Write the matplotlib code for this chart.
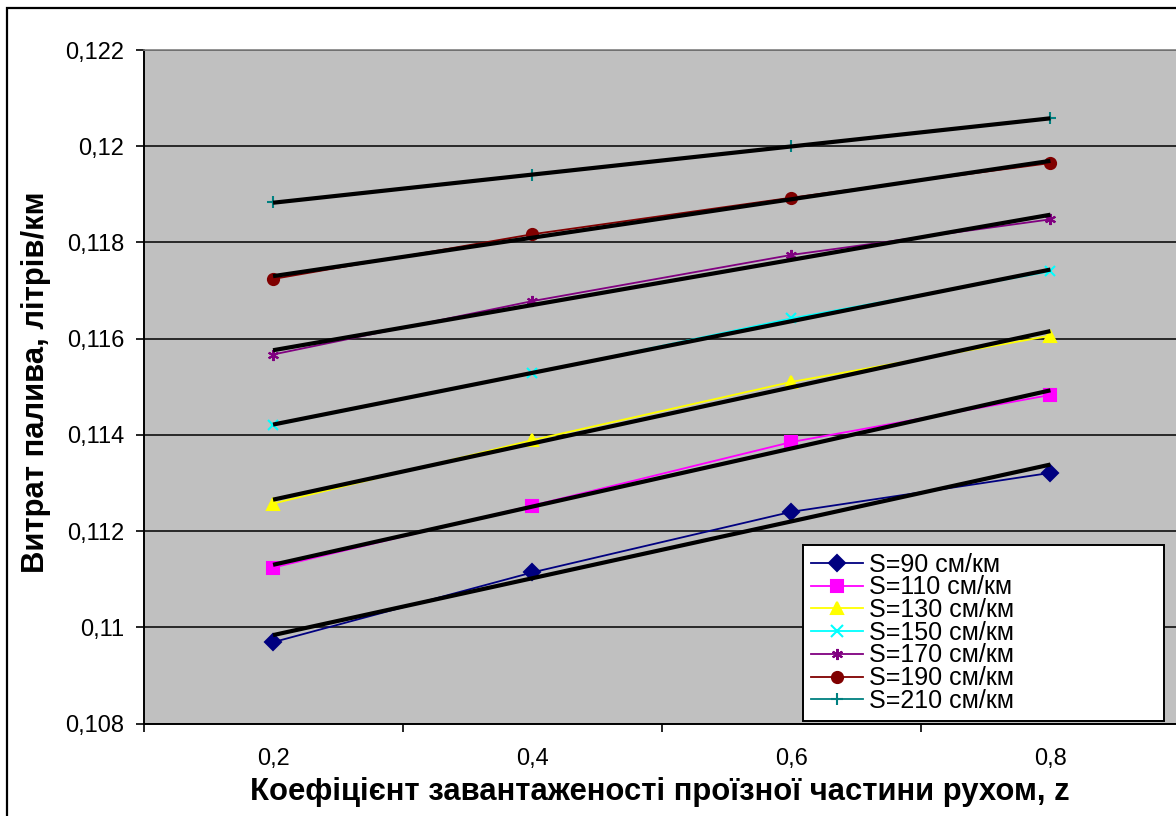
import numpy as np
import matplotlib
matplotlib.use("Agg")
import matplotlib.pyplot as plt
from matplotlib.patches import Rectangle

plt.rcParams['font.family'] = ['Liberation Sans', 'DejaVu Sans']

# ---- data ----
z_labels = ["0,2", "0,4", "0,6", "0,8"]
series_names = ["S=90 см/км", "S=110 см/км", "S=130 см/км", "S=150 см/км",
                "S=170 см/км", "S=190 см/км", "S=210 см/км"]
s90 = [0.10969, 0.11114, 0.11240, 0.11321]
s110 = [0.11124, 0.11253, 0.11385, 0.11483]
s130 = [0.11257, 0.11389, 0.11510, 0.11606]
s150 = [0.11420, 0.11528, 0.11642, 0.11740]
s170 = [0.11567, 0.11678, 0.11774, 0.11848]
s190 = [0.11724, 0.11817, 0.11893, 0.11965]
s210 = [0.11883, 0.11940, 0.12000, 0.12058]
y_ticks = [0.108, 0.110, 0.112, 0.114, 0.116, 0.118, 0.120, 0.122]
y_tick_labels = ["0,108", "0,11", "0,112", "0,114", "0,116", "0,118", "0,12", "0,122"]
x_title = "Коефіцієнт завантаженості проїзної частини рухом, z"
y_title = "Витрат палива, літрів/км"

all_series = [s90, s110, s130, s150, s170, s190, s210]
colors = ["#000080", "#FF00FF", "#FFFF00", "#00FFFF", "#800080", "#800000", "#008080"]
markers = ["D", "s", "^", "x", (6, 2, 0), "o", "+"]
msizes = [8, 8, 9, 7, 8, 8, 8]

W, H = 1176, 816
fig = plt.figure(figsize=(W / 100, H / 100), dpi=100)
fig.patch.set_facecolor("white")

left, right, top, bottom = 143.5, 1180, 50, 723.5
ax = fig.add_axes([left / W, 1 - bottom / H, (right - left) / W, (bottom - top) / H])
ax.set_facecolor("#C0C0C0")

x = np.arange(len(z_labels))
handles = []
for vals, name, c, m, ms in zip(all_series, series_names, colors, markers, msizes):
    (ln,) = ax.plot(x, vals, color=c, lw=1.3, marker=m, markersize=ms,
                    markeredgecolor=c, markerfacecolor=c, markeredgewidth=1.5,
                    label=name, zorder=3, clip_on=False)
    handles.append(ln)
    # linear trendline
    k, b = np.polyfit(x, vals, 1)
    ax.plot(x, k * x + b, color="black", lw=3.0, zorder=4, solid_capstyle="butt")

ax.set_xlim(-0.5, len(z_labels) - 0.5)
ax.set_ylim(y_ticks[0], y_ticks[-1])

ax.set_xticks(x)
ax.set_xticklabels(z_labels, fontsize=17)
ax.set_xticks(np.arange(-0.5, len(z_labels)), minor=True)
ax.tick_params(axis="x", which="major", length=0, pad=18)
ax.tick_params(axis="x", which="minor", length=6, width=1.2, direction="out")

ax.set_yticks(y_ticks)
ax.set_yticklabels(y_tick_labels, fontsize=17)
ax.tick_params(axis="y", which="major", length=6, width=1.2, direction="out", pad=8)

ax.grid(axis="y", color="black", lw=1.1, zorder=1)
ax.set_axisbelow(True)

for s in ["left", "bottom"]:
    ax.spines[s].set_color("black")
    ax.spines[s].set_linewidth(1.4)
for s in ["top", "right"]:
    ax.spines[s].set_color("#808080")
    ax.spines[s].set_linewidth(1.2)

# axis titles
fig.text(660 / W, 1 - 800 / H, x_title, fontsize=22.3, fontweight="bold",
         ha="center", va="baseline")
fig.text(36 / W, 1 - 382 / H, y_title, fontsize=22.3, fontweight="bold",
         ha="center", va="center", rotation=90)

# legend
lx0, lx1, ly0, ly1 = 803, 1164, 545, 718
leg = fig.legend(handles=handles, loc="upper left",
                 bbox_to_anchor=(lx0 / W, 1 - ly1 / H, (lx1 - lx0) / W, (ly1 - ly0) / H),
                 mode="expand", borderaxespad=0, fontsize=18, labelspacing=-0.05,
                 handlelength=2.1, handletextpad=0.25, borderpad=0.3,
                 fancybox=False, framealpha=1, edgecolor="black")
leg.get_frame().set_linewidth(1.4)
for h in leg.legend_handles:
    h.set_markersize(8)

# outer chart border
fig.patches.append(Rectangle((7 / W, -0.1), 2, 1 - 8 / H + 0.1, transform=fig.transFigure,
                             fill=False, edgecolor="black", lw=1.6))

fig.savefig("out.png", dpi=100)
